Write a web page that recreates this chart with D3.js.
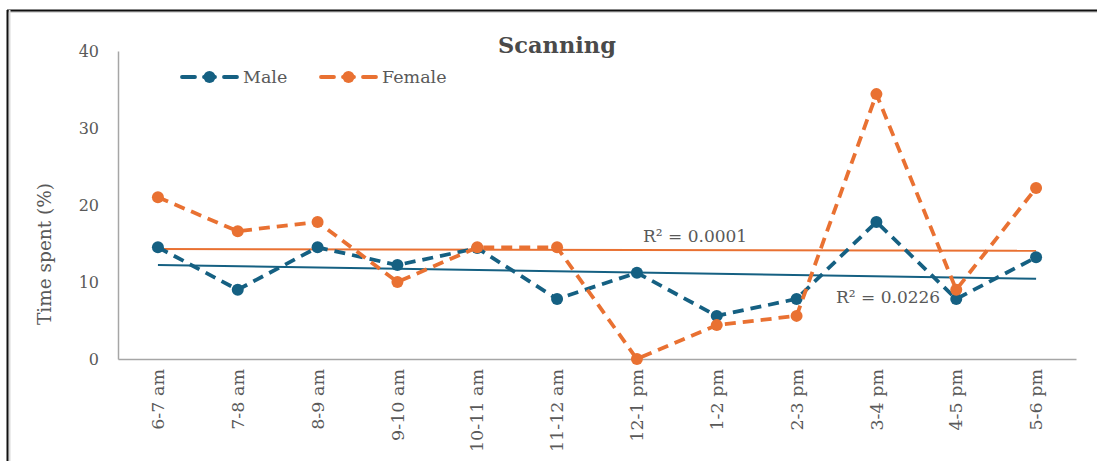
<!DOCTYPE html>
<html>
<head>
<meta charset="utf-8">
<script src="https://cdn.jsdelivr.net/npm/d3@7"></script>
<style>
  body { margin: 0; background: #fff; }
  text { font-family: "DejaVu Serif", serif; }
</style>
</head>
<body>
<div id="chart"></div>
<script>
var svgWidth = 1097;
var svgHeight = 461;

var hours = ["6-7 am", "7-8 am", "8-9 am", "9-10 am", "10-11 am", "11-12 am",
  "12-1 pm", "1-2 pm", "2-3 pm", "3-4 pm", "4-5 pm", "5-6 pm"];
var male = [14.5, 9.0, 14.5, 12.2, 14.4, 7.8, 11.2, 5.6, 7.8, 17.8, 7.8, 13.2];
var female = [21.0, 16.6, 17.8, 10.0, 14.5, 14.5, 0.0, 4.4, 5.6, 34.4, 9.0, 22.2];
var yTicks = [0, 10, 20, 30, 40];
var r2Labels = { male: "R² = 0.0226", female: "R² = 0.0001" };

var blue = "#156082";
var orange = "#e97132";
var textGray = "#595959";

var plotLeft = 118, plotRight = 1076, plotTop = 51, plotBottom = 359;

var svg = d3.select("#chart").append("svg")
  .attr("width", svgWidth)
  .attr("height", svgHeight);

// frame (top and left edges only visible)
svg.append("line").attr("x1", 7).attr("x2", svgWidth).attr("y1", 12).attr("y2", 12)
  .attr("stroke", "#d9d9d9").attr("stroke-width", 2);
svg.append("line").attr("x1", 7).attr("x2", svgWidth).attr("y1", 10.5).attr("y2", 10.5)
  .attr("stroke", "#111").attr("stroke-width", 2);
svg.append("line").attr("x1", 9.5).attr("x2", 9.5).attr("y1", 10).attr("y2", svgHeight)
  .attr("stroke", "#d9d9d9").attr("stroke-width", 2);
svg.append("line").attr("x1", 7.5).attr("x2", 7.5).attr("y1", 10).attr("y2", svgHeight)
  .attr("stroke", "#111").attr("stroke-width", 2);

var xScale = d3.scaleBand().domain(hours).range([plotLeft, plotRight]);
var yScale = d3.scaleLinear().domain([0, 40]).range([plotBottom, plotTop]);

function xPos(d) { return xScale(d) + xScale.bandwidth() / 2; }

// axes
var yAxis = d3.axisLeft(yScale).tickValues(yTicks).tickSize(0).tickPadding(19);
svg.append("g").attr("class", "yAxis")
  .attr("transform", "translate(" + plotLeft + ",0)")
  .call(yAxis)
  .call(function(g) {
    g.select(".domain").attr("stroke", "#a6a6a6").attr("stroke-width", 1.5);
    g.selectAll("text").attr("fill", textGray).attr("font-size", 16)
      .attr("font-family", "DejaVu Serif");
  });

var xAxis = d3.axisBottom(xScale).tickSize(0).tickPadding(0);
svg.append("g").attr("class", "xAxis")
  .attr("transform", "translate(0," + plotBottom + ")")
  .call(xAxis)
  .call(function(g) {
    g.select(".domain").attr("stroke", "#a6a6a6").attr("stroke-width", 1.5);
    g.selectAll("text")
      .attr("fill", textGray).attr("font-size", 17.5)
      .attr("font-family", "DejaVu Serif")
      .attr("text-anchor", "end")
      .attr("transform", "rotate(-90)")
      .attr("x", -10).attr("y", 0).attr("dy", "0.35em");
  });

// y title
svg.append("text")
  .attr("transform", "translate(51," + ((plotTop + plotBottom) / 2 + 49) + ")rotate(-90)")
  .attr("text-anchor", "middle")
  .attr("font-size", 18.5)
  .attr("fill", textGray)
  .text("Time spent (%)");

// chart title
svg.append("text")
  .attr("x", 557).attr("y", 53)
  .attr("text-anchor", "middle")
  .attr("font-size", 22.5)
  .attr("font-weight", "bold")
  .attr("fill", "#4a4a4a")
  .text("Scanning");

// linear trend from the data
function trend(values) {
  var n = values.length;
  var xs = d3.range(n);
  var mx = d3.mean(xs), my = d3.mean(values);
  var sxy = 0, sxx = 0;
  for (var i = 0; i < n; i++) {
    sxy += (xs[i] - mx) * (values[i] - my);
    sxx += (xs[i] - mx) * (xs[i] - mx);
  }
  var b = sxy / sxx;
  var a = my - b * mx;
  return [a, a + b * (n - 1)];
}

function drawTrend(values, color) {
  var t = trend(values);
  svg.append("line")
    .attr("x1", xPos(hours[0])).attr("y1", yScale(t[0]))
    .attr("x2", xPos(hours[hours.length - 1])).attr("y2", yScale(t[1]))
    .attr("stroke", color).attr("stroke-width", 2);
}
drawTrend(female, orange);
drawTrend(male, blue);

var line = d3.line()
  .x(function(d, i) { return xPos(hours[i]); })
  .y(function(d) { return yScale(d); });

function drawSeries(values, color) {
  svg.append("path")
    .datum(values)
    .attr("d", line)
    .attr("fill", "none")
    .attr("stroke", color)
    .attr("stroke-width", 3.8)
    .attr("stroke-dasharray", "11,7");
  svg.selectAll(null).data(values).enter()
    .append("circle")
    .attr("cx", function(d, i) { return xPos(hours[i]); })
    .attr("cy", function(d) { return yScale(d); })
    .attr("r", 6)
    .attr("fill", color);
}
drawSeries(male, blue);
drawSeries(female, orange);

// R² labels
svg.append("text").attr("x", 643).attr("y", 242)
  .attr("font-size", 17).attr("fill", textGray).text(r2Labels.female);
svg.append("text").attr("x", 836).attr("y", 303)
  .attr("font-size", 17).attr("fill", textGray).text(r2Labels.male);

// legend
var legend = [
  { name: "Male", color: blue, x: 182 },
  { name: "Female", color: orange, x: 321 }
];
legend.forEach(function(l) {
  var g = svg.append("g").attr("transform", "translate(" + l.x + ",77)");
  g.append("line").attr("x1", 0).attr("x2", 55).attr("y1", 0).attr("y2", 0)
    .attr("stroke", l.color).attr("stroke-width", 3.8)
    .attr("stroke-linecap", "round")
    .attr("stroke-dasharray", "13,9,11,9,13");
  g.append("circle").attr("cx", 27.5).attr("cy", 0).attr("r", 6).attr("fill", l.color);
  g.append("text").attr("x", 61).attr("y", 6)
    .attr("font-size", 17.5).attr("fill", textGray).text(l.name);
});
</script>
</body>
</html>
